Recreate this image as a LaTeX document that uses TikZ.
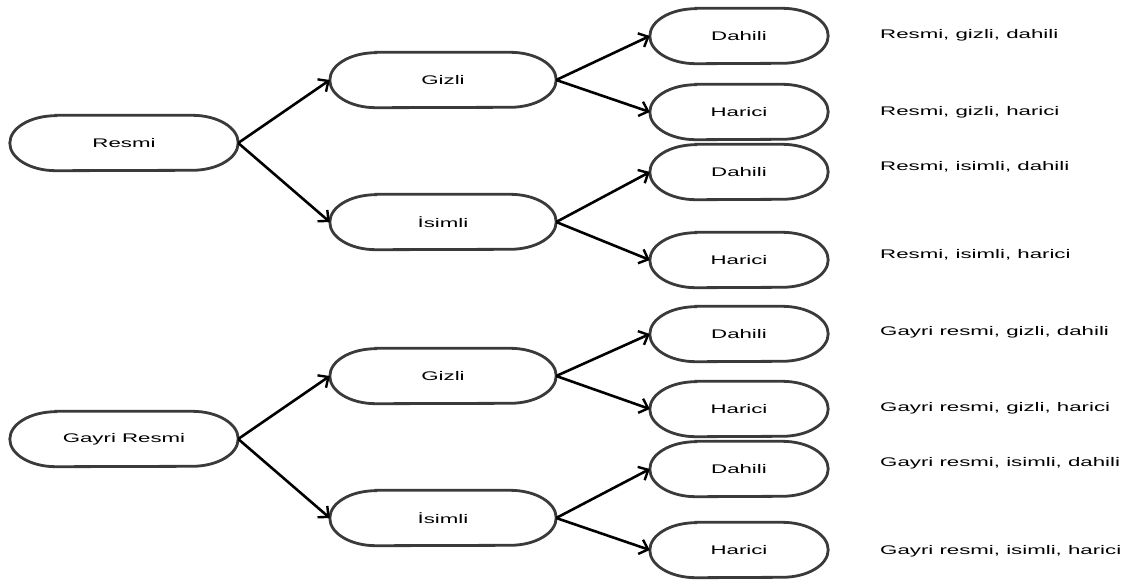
\documentclass[tikz,border=0pt]{standalone}
\usepackage{fontspec}
\setmainfont{Liberation Sans}
\newfontfamily\widesans[FakeStretch=1.78]{Liberation Sans}
\usetikzlibrary{arrows.meta}
\definecolor{edgegray}{HTML}{3A3A3A}
\tikzset{
  term/.style={draw=none, inner sep=0pt, minimum height=55pt,
    font=\widesans\fontsize{12.5}{14}\selectfont},
  root/.style={term, minimum width=228pt},
  mid/.style={term, minimum width=226pt},
  leaf/.style={term, minimum width=178pt},
  outline/.style={draw=edgegray, line width=2.8pt},
  caption/.style={anchor=west, inner sep=0pt, font=\widesans\fontsize{12.5}{15}\selectfont},
  link/.style={line width=2.6pt, black, -{Straight Barb[length=8pt,width=15pt,line width=2.4pt]}}
}
\begin{document}
\begin{tikzpicture}[x=1pt,y=-1pt]
\useasboundingbox (0,0) rectangle (1129,580);
% first level
\node[root] (resmi) at (124,143) {Resmi};
\node[root] (gayri) at (124,439) {Gayri Resmi};
% second level
\node[mid] (gizA) at (443,80) {Gizli};
\node[mid] (isiA) at (443,222) {İsimli};
\node[mid] (gizB) at (443,376) {Gizli};
\node[mid] (isiB) at (443,518) {İsimli};
% third level
\node[leaf] (dA1) at (739,36) {Dahili};
\node[leaf] (hA1) at (739,112) {Harici};
\node[leaf] (dA2) at (739,172) {Dahili};
\node[leaf] (hA2) at (739,260) {Harici};
\node[leaf] (dB1) at (739,334) {Dahili};
\node[leaf] (hB1) at (739,409) {Harici};
\node[leaf] (dB2) at (739,469) {Dahili};
\node[leaf] (hB2) at (739,550) {Harici};
% terminal outlines with elliptic ends
\foreach \n in {resmi,gayri,gizA,isiA,gizB,isiB,dA1,hA1,dA2,hA2,dB1,hB1,dB2,hB2}{
  \draw[outline] ([xshift=46pt]\n.north west) -- ([xshift=-46pt]\n.north east)
    arc[start angle=90, end angle=-90, x radius=46pt, y radius=27.5pt]
    -- ([xshift=46pt]\n.south west)
    arc[start angle=270, end angle=90, x radius=46pt, y radius=27.5pt] -- cycle;
}
% connectors
\draw[link] (resmi.east) -- (gizA.west);
\draw[link] (resmi.east) -- (isiA.west);
\draw[link] (gayri.east) -- (gizB.west);
\draw[link] (gayri.east) -- (isiB.west);
\draw[link] (gizA.east) -- (dA1.west);
\draw[link] (gizA.east) -- (hA1.west);
\draw[link] (isiA.east) -- (dA2.west);
\draw[link] (isiA.east) -- (hA2.west);
\draw[link] (gizB.east) -- (dB1.west);
\draw[link] (gizB.east) -- (hB1.west);
\draw[link] (isiB.east) -- (dB2.west);
\draw[link] (isiB.east) -- (hB2.west);
% outcome labels
\node[caption] (t1) at (880,35) {Resmi, gizli, dahili};
\node[caption] (t2) at (880,112) {Resmi, gizli, harici};
\node[caption] (t3) at (880,167) {Resmi, isimli, dahili};
\node[caption] (t4) at (880,255) {Resmi, isimli, harici};
\node[caption] (t5) at (880,332) {Gayri resmi, gizli, dahili};
\node[caption] (t6) at (880,408) {Gayri resmi, gizli, harici};
\node[caption] (t7) at (880,463) {Gayri resmi, isimli, dahili};
\node[caption] (t8) at (880,551) {Gayri resmi, isimli, harici};
\end{tikzpicture}
\end{document}
